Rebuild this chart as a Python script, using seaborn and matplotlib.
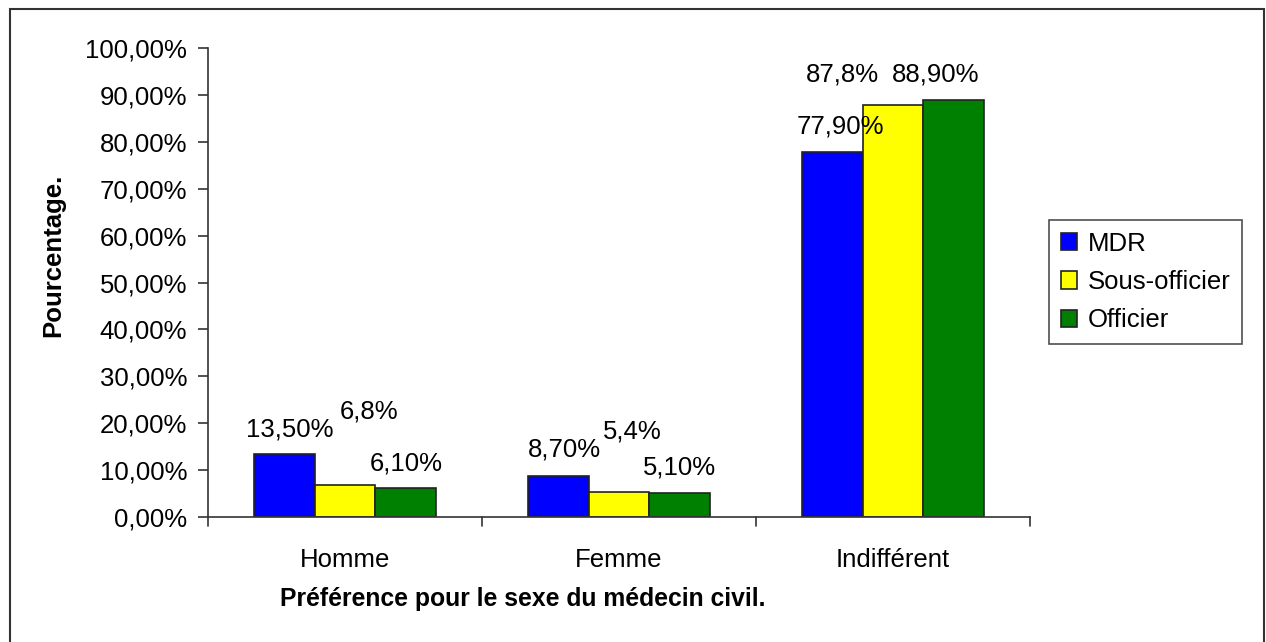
import pandas as pd
import numpy as np
import matplotlib.pyplot as plt
import seaborn as sns
from matplotlib.patches import Rectangle

# ===================== données =====================
categories = ['Homme', 'Femme', 'Indifférent']
groupes = ['MDR', 'Sous-officier', 'Officier']
mdr = [13.5, 8.7, 77.9]
sous_officier = [6.8, 5.4, 87.8]
officier = [6.1, 5.1, 88.9]
etiquettes = {
    'MDR': ['13,50%', '8,70%', '77,90%'],
    'Sous-officier': ['6,8%', '5,4%', '87,8%'],
    'Officier': ['6,10%', '5,10%', '88,90%'],
}
yticks = [0, 10, 20, 30, 40, 50, 60, 70, 80, 90, 100]
ytick_labels = ['0,00%', '10,00%', '20,00%', '30,00%', '40,00%', '50,00%',
                '60,00%', '70,00%', '80,00%', '90,00%', '100,00%']

couleurs = {'MDR': '#0000FF', 'Sous-officier': '#FFFF00', 'Officier': '#008000'}
# décalage (pixels) des étiquettes par rapport au sommet des barres, comme dans l'original Excel
decalages = {
    'MDR': [(6, 24), (6, 27), (8, 25)],
    'Sous-officier': [(24, 74), (13, 60), (-51, 31)],
    'Officier': [(0, 25), (0, 26), (-18, 26)],
}

df = pd.DataFrame({
    'Préférence': categories * 3,
    'Groupe': [g for g in groupes for _ in categories],
    'Pourcentage': mdr + sous_officier + officier,
})

# ===================== figure =====================
sns.set_theme(style='white')
plt.rcParams['font.family'] = ['Liberation Sans', 'DejaVu Sans']
plt.rcParams['text.color'] = 'black'
plt.rcParams['axes.labelcolor'] = 'black'
plt.rcParams['xtick.color'] = 'black'
plt.rcParams['ytick.color'] = 'black'

FS = 18.5

fig = plt.figure(figsize=(12.66, 6.42), dpi=100)
ax = fig.add_axes([208 / 1266, 1 - 517 / 642, (1030 - 208) / 1266, (517 - 48) / 642])

sns.barplot(data=df, x='Préférence', y='Pourcentage', hue='Groupe',
            order=categories, hue_order=groupes, palette=couleurs,
            width=0.667, edgecolor='#222222', linewidth=1.2, saturation=1,
            ax=ax, legend=True)

# étiquettes de données
for conteneur, g in zip(ax.containers, groupes):
    for i, barre in enumerate(conteneur):
        dx, dy = decalages[g][i]
        ax.annotate(etiquettes[g][i],
                    xy=(barre.get_x() + barre.get_width() / 2, barre.get_height()),
                    xytext=(dx, dy), textcoords='offset pixels',
                    ha='center', va='center', fontsize=FS, color='black')

ax.set_ylim(0, 100)
ax.set_xlim(-0.5, 2.5)
ax.set_yticks(yticks)
ax.set_yticklabels(ytick_labels, fontsize=FS)
ax.set_xticks([0, 1, 2])
ax.set_xticklabels(categories, fontsize=FS)
ax.tick_params(axis='x', length=0, pad=22)
ax.tick_params(axis='y', length=7, width=1.2, direction='out', color='#333333',
               labelcolor='black', pad=8, left=True)
# graduations entre catégories
for xb in [-0.5, 0.5, 1.5, 2.5]:
    ax.plot([xb, xb], [0, -0.019], transform=ax.get_xaxis_transform(),
            color='#333333', lw=1.2, clip_on=False)

for s in ['top', 'right']:
    ax.spines[s].set_visible(False)
for s in ['left', 'bottom']:
    ax.spines[s].set_color('#333333')
    ax.spines[s].set_linewidth(1.2)

ax.set_ylabel('Pourcentage.', fontsize=FS, fontweight='bold')
ax.yaxis.set_label_coords(-0.174, 0.559)
ax.set_xlabel('Préférence pour le sexe du médecin civil.', fontsize=17.8,
              fontweight='bold')
ax.xaxis.set_label_coords(0.383, -0.149)

leg = ax.legend(loc='center left', bbox_to_anchor=(1049 / 1266, 1 - 282 / 642),
                bbox_transform=fig.transFigure, fontsize=FS, frameon=True,
                fancybox=False, handlelength=0.65, handleheight=0.65,
                handletextpad=0.4, labelspacing=0.55, borderpad=0.45,
                borderaxespad=0)
leg.get_frame().set_edgecolor('#222222')
leg.get_frame().set_linewidth(1.2)

# cadre extérieur
fig.patches.append(Rectangle((10 / 1266, -0.01), (1264 - 10) / 1266, 1 - 9 / 642 + 0.01,
                             transform=fig.transFigure, fill=False,
                             edgecolor='#333333', linewidth=1.5))

fig.savefig('out.png', dpi=100)
